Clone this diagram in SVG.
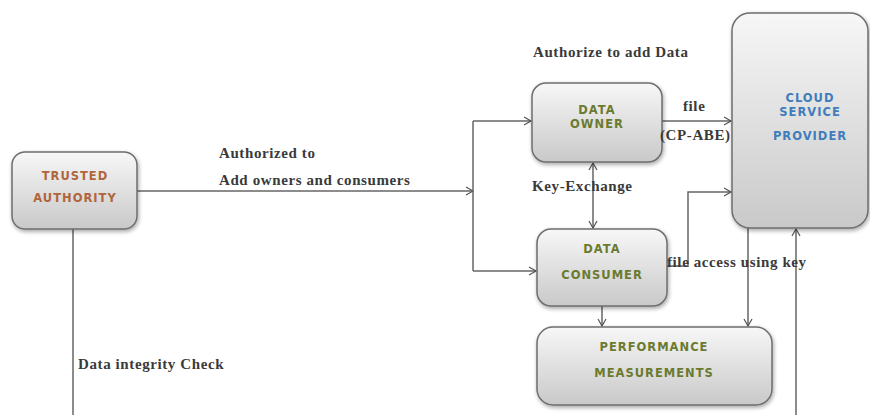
<svg xmlns="http://www.w3.org/2000/svg" width="870" height="415" viewBox="0 0 870 415">
<defs>
<linearGradient id="g" x1="0" y1="0" x2="0" y2="1">
<stop offset="0" stop-color="#f7f7f7"/>
<stop offset="1" stop-color="#c9c9c9"/>
</linearGradient>
<filter id="sh" x="-10%" y="-10%" width="125%" height="125%">
<feGaussianBlur in="SourceAlpha" stdDeviation="2"/>
<feOffset dx="1" dy="2" result="b"/>
<feComponentTransfer><feFuncA type="linear" slope="0.35"/></feComponentTransfer>
<feMerge><feMergeNode/><feMergeNode in="SourceGraphic"/></feMerge>
</filter>
<marker id="ah" markerWidth="10" markerHeight="10" refX="8" refY="5" orient="auto" markerUnits="userSpaceOnUse">
<path d="M1,1 L8,5 L1,9" fill="none" stroke="#555" stroke-width="1.2"/>
</marker>
<marker id="ahs" markerWidth="10" markerHeight="10" refX="8" refY="5" orient="auto-start-reverse" markerUnits="userSpaceOnUse">
<path d="M1,1 L8,5 L1,9" fill="none" stroke="#555" stroke-width="1.2"/>
</marker>
</defs>
<style>
.box{fill:url(#g);stroke:#6e6e6e;stroke-width:1.5;filter:url(#sh)}
.nt{font-family:"DejaVu Sans",Verdana,sans-serif;font-weight:bold;font-size:11.5px;letter-spacing:1px;text-anchor:middle}
.ta{fill:#b0653c}
.gr{fill:#6b7a2e}
.bl{fill:#3f7dbb}
.lbl{font-family:"Liberation Serif","Times New Roman",serif;font-weight:bold;font-size:15px;letter-spacing:0.6px;fill:#3a3a3a}
.ln{fill:none;stroke:#666;stroke-width:1.5}
</style>
<rect width="870" height="415" fill="#fff"/>
<g id="connectors">
<path class="ln" d="M137,191 H473" marker-end="url(#ah)"/>
<path class="ln" d="M473,121 V271"/>
<path class="ln" d="M473,121 H531" marker-end="url(#ah)"/>
<path class="ln" d="M473,271 H536" marker-end="url(#ah)"/>
<path class="ln" d="M662,121 H731" marker-end="url(#ah)"/>
<path class="ln" d="M593,163 V228" marker-start="url(#ahs)" marker-end="url(#ah)"/>
<path class="ln" d="M667,266 H688 V192 H731" marker-end="url(#ah)"/>
<path class="ln" d="M602,306 V326" marker-end="url(#ah)"/>
<path class="ln" d="M748,228 V326" marker-end="url(#ah)"/>
<path class="ln" d="M796,415 V229" marker-end="url(#ah)"/>
<path class="ln" d="M73,229 V415"/>
</g>
<g id="trusted-authority">
<rect class="box" x="12" y="152" width="125" height="77" rx="13"/>
<text class="nt ta" x="75" y="180">TRUSTED</text>
<text class="nt ta" x="75" y="202">AUTHORITY</text>
</g>
<g id="data-owner">
<rect class="box" x="532" y="83" width="130" height="79" rx="14"/>
<text class="nt gr" x="597" y="114">DATA</text>
<text class="nt gr" x="597" y="128">OWNER</text>
</g>
<g id="data-consumer">
<rect class="box" x="537" y="229" width="130" height="77" rx="14"/>
<text class="nt gr" x="602" y="253">DATA</text>
<text class="nt gr" x="602" y="279">CONSUMER</text>
</g>
<g id="performance-measurements">
<rect class="box" x="537" y="327" width="235" height="78" rx="16"/>
<text class="nt gr" x="654" y="351">PERFORMANCE</text>
<text class="nt gr" x="654" y="377">MEASUREMENTS</text>
</g>
<g id="cloud-service-provider">
<rect class="box" x="732" y="13" width="136" height="215" rx="18"/>
<text class="nt bl" x="810" y="102">CLOUD</text>
<text class="nt bl" x="810" y="116">SERVICE</text>
<text class="nt bl" x="810" y="140">PROVIDER</text>
</g>
<g id="labels">
<text class="lbl" x="533" y="57">Authorize to add Data</text>
<text class="lbl" x="219" y="158">Authorized to</text>
<text class="lbl" x="219" y="185">Add owners and consumers</text>
<text class="lbl" x="683" y="111">file</text>
<text class="lbl" x="660" y="140">(CP-ABE)</text>
<text class="lbl" x="532" y="191">Key-Exchange</text>
<text class="lbl" x="667" y="267">file access using key</text>
<text class="lbl" x="78" y="369">Data integrity Check</text>
</g>
</svg>
